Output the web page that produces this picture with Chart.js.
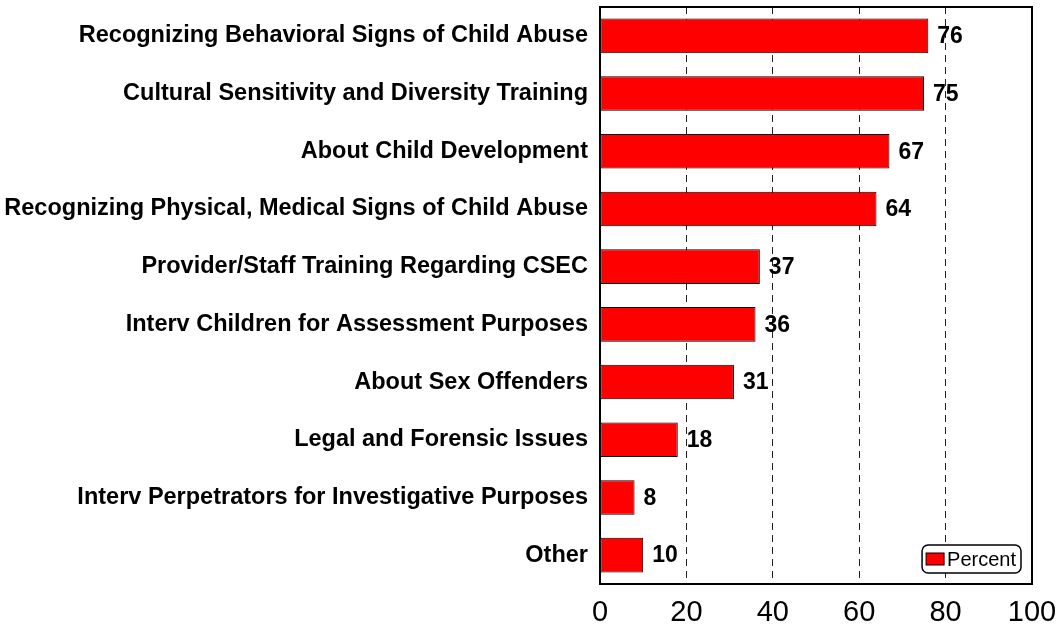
<!DOCTYPE html>
<html>
<head>
<meta charset="utf-8">
<script src="https://cdn.jsdelivr.net/npm/chart.js@4.4.1/dist/chart.umd.min.js"></script>
<style>
  html, body { margin: 0; padding: 0; background: #fff; }
  #wrap { width: 1062px; height: 626px; position: relative; }
</style>
</head>
<body>
<div id="wrap"><canvas id="chart" width="1062" height="626"></canvas></div>
<script>
// Dados do gráfico
const categories = [
  'Recognizing Behavioral Signs of Child Abuse',
  'Cultural Sensitivity and Diversity Training',
  'About Child Development',
  'Recognizing Physical, Medical Signs of Child Abuse',
  'Provider/Staff Training Regarding CSEC',
  'Interv Children for Assessment Purposes',
  'About Sex Offenders',
  'Legal and Forensic Issues',
  'Interv Perpetrators for Investigative Purposes',
  'Other'
];
const percentValues = [76, 75, 67, 64, 37, 36, 31, 18, 8, 10];
const xTicks = [0, 20, 40, 60, 80, 100];
const seriesName = 'Percent';

// Rótulos de valor ao lado das barras
const valueLabels = {
  id: 'valueLabels',
  afterDatasetsDraw(chart) {
    const ctx = chart.ctx;
    const meta = chart.getDatasetMeta(0);
    ctx.save();
    ctx.font = 'bold 23px Arial, "Liberation Sans"';
    ctx.fillStyle = '#000';
    ctx.textBaseline = 'middle';
    ctx.textAlign = 'left';
    meta.data.forEach((bar, i) => {
      ctx.fillText(percentValues[i], bar.x + 9, bar.y + 1);
    });
    ctx.restore();
  }
};

// Moldura e legenda dentro da área
const frameAndLegend = {
  id: 'frameAndLegend',
  afterDraw(chart) {
    const { ctx, chartArea: a } = chart;
    ctx.save();
    ctx.strokeStyle = '#000';
    ctx.lineWidth = 2;
    ctx.strokeRect(a.left, a.top, a.right - a.left, a.bottom - a.top);

    ctx.font = '20px Arial, "Liberation Sans"';
    const tw = ctx.measureText(seriesName).width;
    const w = 4 + 18 + 3 + tw + 5, h = 28;
    const x = a.right - 11 - w, y = a.bottom - 11 - h;
    ctx.beginPath();
    ctx.roundRect(x, y, w, h, 6);
    ctx.fillStyle = '#fff';
    ctx.fill();
    ctx.lineWidth = 1.5;
    ctx.stroke();
    ctx.fillStyle = '#ff0000';
    ctx.fillRect(x + 4, y + 8, 18, 12);
    ctx.lineWidth = 1;
    ctx.strokeRect(x + 4, y + 8, 18, 12);
    ctx.fillStyle = '#000';
    ctx.textBaseline = 'middle';
    ctx.fillText(seriesName, x + 25, y + h / 2 + 1);
    ctx.restore();
  }
};

window.addEventListener('DOMContentLoaded', () => {
  new Chart(document.getElementById('chart'), {
    type: 'bar',
    data: {
      labels: categories,
      datasets: [{
        label: seriesName,
        data: percentValues,
        backgroundColor: '#ff0000',
        borderColor: '#000',
        borderWidth: 1,
        borderSkipped: false,
        categoryPercentage: 1,
        barPercentage: 0.6
      }]
    },
    options: {
      indexAxis: 'y',
      responsive: false,
      animation: false,
      layout: { padding: { top: 7, right: 30, left: 0, bottom: 0 } },
      plugins: { legend: { display: false }, tooltip: { enabled: false } },
      scales: {
        x: {
          min: 0,
          max: 100,
          afterBuildTicks: s => { s.ticks = xTicks.map(v => ({ value: v })); },
          afterFit: s => { s.height = 42; s.paddingLeft = 0; s.paddingRight = 0; },
          grid: {
            drawTicks: false,
            color: c => (c.tick && c.tick.value % 100 !== 0) ? '#222' : 'rgba(0,0,0,0)',
            lineWidth: 1
          },
          border: { display: false, dash: [7, 5] },
          ticks: {
            color: '#000',
            padding: 12,
            font: { family: 'Arial, "Liberation Sans"', size: 29 }
          }
        },
        y: {
          afterFit: s => { s.width = 600; s.paddingTop = 0; s.paddingBottom = 0; },
          grid: { display: false, drawTicks: false },
          border: { display: false },
          ticks: {
            color: '#000',
            padding: 12,
            font: { family: 'Arial, "Liberation Sans"', size: 23.5, weight: 'bold' }
          }
        }
      }
    },
    plugins: [valueLabels, frameAndLegend]
  });
});
</script>
</body>
</html>
